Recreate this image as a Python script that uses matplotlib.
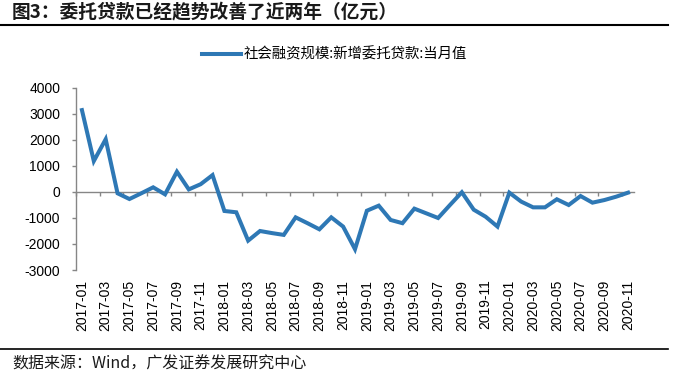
import numpy as np
import matplotlib
matplotlib.use("Agg")
import matplotlib.pyplot as plt
from matplotlib.lines import Line2D
from matplotlib.ticker import NullFormatter

# ----------------------------
# Data (亿元, monthly new entrusted loans)
# ----------------------------
months = [f"{y}-{m:02d}" for y in range(2017, 2021) for m in range(1, 13)][:47]
values = [3150, 1190, 2030, -50, -270, -50, 180, -90, 780, 100, 300, 650,
          -730, -780, -1870, -1500, -1580, -1650, -975, -1200, -1435, -975, -1330, -2200,
          -720, -525, -1075, -1200, -640, -820, -1000, -500, -10, -680, -950, -1330,
          -25, -370, -590, -590, -280, -500, -155, -410, -310, -180, -25]

title = "图3：委托贷款已经趋势改善了近两年（亿元）"
series_name = "社会融资规模:新增委托贷款:当月值"
source = "数据来源：Wind，广发证券发展研究中心"
yticks = [-3000, -2000, -1000, 0, 1000, 2000, 3000, 4000]

line_color = "#2E78B5"
axis_gray = "#868686"
cjk = ["Noto Sans CJK SC", "DejaVu Sans"]
plt.rcParams["font.family"] = ["Liberation Sans", "Noto Sans CJK SC"]

W, H = 687, 381
fig = plt.figure(figsize=(W / 100, H / 100), dpi=100)
ax = fig.add_axes([76 / W, 1 - 270 / H, (634 - 76) / W, (270 - 88) / H])

x = np.arange(len(values))
ln, = ax.plot(x, values, color=line_color, lw=2.9, solid_joinstyle="miter",
              label=series_name)

ax.set_xlim(-0.5, len(values) - 0.5)
ax.set_ylim(-3000, 4000)
ax.set_yticks(yticks)
ax.set_yticklabels([str(v) for v in yticks], fontsize=10)
ax.tick_params(axis="y", length=2.9, width=1, color=axis_gray, pad=8.5)

# labels every two months at the category centres, no tick marks
ax.set_xticks(x[::2])
ax.set_xticklabels(months[::2], rotation=90, fontsize=10)
ax.tick_params(axis="x", length=0, pad=7)

for s in ["top", "right", "bottom"]:
    ax.spines[s].set_visible(False)
ax.spines["left"].set_color(axis_gray)
ax.spines["left"].set_linewidth(1)

# category axis crossing at zero, ticks between categories
zero_ax = ax.secondary_xaxis(3 / 7)
zero_ax.set_xticks(np.arange(-0.5, len(values), 2))
zero_ax.xaxis.set_major_formatter(NullFormatter())
zero_ax.tick_params(axis="x", direction="out", length=2.9, width=1,
                    color=axis_gray)
for s in ["top", "left", "right"]:
    zero_ax.spines[s].set_visible(False)
zero_ax.spines["bottom"].set_color(axis_gray)
zero_ax.spines["bottom"].set_linewidth(1)

# legend
fig.legend(handles=[ln], loc="center left", bbox_to_anchor=(202 / W, 1 - 54.5 / H),
           frameon=False, borderpad=0, borderaxespad=0, handlelength=2.7,
           handletextpad=0.2, prop={"family": cjk, "size": 10.4})

# title, rules and source
fig.text(12 / W, 1 - 12 / H, title, fontsize=13.5, fontweight="bold",
         family=cjk, color="#1a1a1a", va="center", ha="left")
fig.add_artist(Line2D([0, 668 / W], [1 - 25 / H, 1 - 25 / H], color="black", lw=1.5))
fig.add_artist(Line2D([0, 668 / W], [1 - 349 / H, 1 - 349 / H], color="black", lw=1.2))
fig.text(12 / W, 1 - 364 / H, source, fontsize=11.5, family=cjk,
         color="#1a1a1a", va="center", ha="left")

fig.savefig("out.png", dpi=100)
